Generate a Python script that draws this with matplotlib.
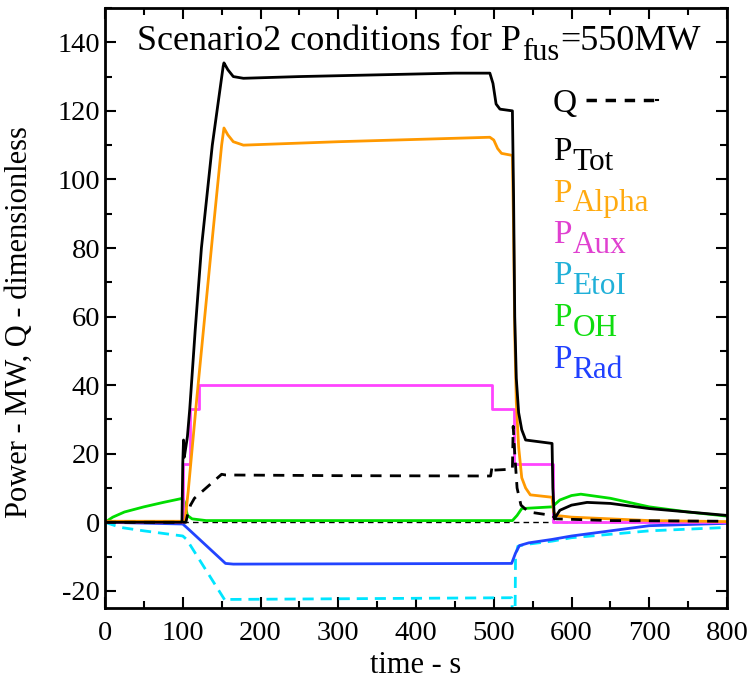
import matplotlib
matplotlib.use("Agg")
import matplotlib.pyplot as plt
from matplotlib.ticker import MultipleLocator

plt.rcParams['font.family'] = ['Liberation Serif', 'DejaVu Serif']
plt.rcParams['axes.unicode_minus'] = False

# P_Tot (black)
t_tot = [0, 99, 100, 101, 102, 104, 106, 109, 116, 124, 138, 152, 153, 158, 165, 178, 250, 350, 450,
         495, 499, 503, 508, 524, 525.5, 527, 529, 532, 536, 541, 575, 576, 578, 585, 600, 620, 650, 700, 750, 800]
p_tot = [0, 0, 17, 24, 19, 22, 25, 33, 56, 80, 110, 133, 134, 132, 130, 129.5, 130, 130.5, 131,
         131, 128, 122, 120.5, 120, 95, 60, 42, 32, 27, 24, 23, 10, 1, 3.5, 5, 5.8, 5.5, 4, 3, 2]

# P_Alpha (orange)
t_alpha = [0, 100, 103, 107, 118, 139, 150, 153, 158, 165, 178, 300, 495, 500, 505, 510, 524, 525.5, 527,
           529, 532, 536, 541, 547, 575, 577, 580, 600, 650, 700, 800]
p_alpha = [0.3, 0.3, 0.5, 9, 36, 85, 110, 115, 113, 111, 110, 111, 112.3, 111.5, 109, 107.6, 107, 85, 55,
           35, 22, 13, 10, 8, 7.3, 3, 2, 1.5, 1, 0.5, 0.2]

# P_Aux (magenta, step)
t_aux = [0, 100, 100, 109, 109, 121, 121, 498, 498, 526, 526, 576, 576, 800]
p_aux = [0, 0, 17, 17, 33, 33, 40, 40, 33, 33, 17, 17, 0, 0]

# P_EtoI (cyan dashed)
t_etoi = [0, 20, 50, 100, 105, 155, 160, 523, 525, 526, 527, 528, 531, 540, 575, 600, 650, 700, 750, 800]
p_etoi = [0, -1.5, -2.5, -4, -5, -23, -22.5, -22, -30, -40, -40, -10, -7, -6.5, -5.5, -4.5, -3.5, -2.5, -2, -1.5]

# P_OH (green)
t_oh = [0, 10, 25, 50, 75, 100, 102, 106, 112, 130, 524, 530, 536, 575, 585, 600, 612, 650, 700, 750, 800]
p_oh = [0, 1.5, 3, 4.5, 5.8, 7, 6, 2, 1, 0.5, 0.5, 2, 4, 4.5, 6.5, 7.8, 8.2, 7, 4.5, 3, 1.8]

# P_Rad (blue)
t_rad = [0, 100, 105, 155, 165, 523, 528, 533, 545, 575, 600, 650, 700, 800]
p_rad = [0, -0.5, -1.5, -12, -12.2, -12, -9, -6.8, -6, -5, -4, -2.5, -1, -0.3]

# Q (black dashed)
t_q = [0, 104, 106, 110, 115, 150, 155, 300, 496, 498, 500, 524, 525, 527, 530, 535, 545, 575, 580, 650, 800]
q = [0, 0, 2, 5, 7, 14, 13.8, 13.6, 13.5, 16.5, 15.2, 15.5, 28, 20, 10, 5, 3, 2, 1, 0.5, 0.3]

legend_subs = ["Tot", "Alpha", "Aux", "EtoI", "OH", "Rad"]
legend_colors = ["black", "#ffaa10", "#e040d0", "#20b0d8", "#10dd10", "#2040ff"]

W, H = 748, 690
fig = plt.figure(figsize=(W / 100, H / 100), dpi=100)
ax = fig.add_axes([105 / W, 1 - 608 / H, 622 / W, 600 / H])

lw = 2.0
ax.axhline(0, color="black", lw=1.0, ls=(0, (4, 3)), zorder=1)
ax.plot(t_etoi, p_etoi, color="#00e5ff", lw=lw, ls=(0, (4, 2.5)))
ax.plot(t_rad, p_rad, color="#2244ff", lw=lw)
ax.plot(t_oh, p_oh, color="#00dd00", lw=lw)
ax.plot(t_aux, p_aux, color="#ff44ff", lw=lw)
ax.plot(t_alpha, p_alpha, color="#ff9900", lw=lw)
ax.plot(t_tot, p_tot, color="black", lw=lw)
ax.plot(t_q, q, color="black", lw=lw, ls=(0, (4, 3)))

ax.set_xlim(0, 800)
ax.set_ylim(-25, 150)
ax.xaxis.set_major_locator(MultipleLocator(100))
ax.xaxis.set_minor_locator(MultipleLocator(50))
ax.yaxis.set_major_locator(MultipleLocator(20))
ax.yaxis.set_minor_locator(MultipleLocator(10))
ax.tick_params(which="both", direction="in", top=True, right=True, labelsize=20.5, width=1.5)
ax.tick_params(which="major", length=8)
ax.tick_params(which="minor", length=5)
ax.tick_params(axis="x", pad=9)
for s in ax.spines.values():
    s.set_linewidth(2)

ax.set_xlabel("time - s", fontsize=22)
ax.set_ylabel("Power - MW, Q - dimensionless", fontsize=22)
ax.xaxis.set_label_coords(0.5, -0.072)
ax.yaxis.set_label_coords(-0.137, 0.477)
ax.yaxis.label.set_va("center")


def pix_text(x, y, s, size, color="black"):
    # x, y in figure pixels from top-left, baseline aligned
    return fig.text(x / W, 1 - y / H, s, fontsize=size, color=color, ha="left", va="baseline")


def right_edge(t):
    fig.canvas.draw()
    return t.get_window_extent().x1


def sub_label(x, y, main, sub, size, sub_size, drop, color="black", rest=None):
    t = pix_text(x, y, main, size, color)
    x2 = right_edge(t) + 1
    t2 = pix_text(x2, y + drop, sub, sub_size, color)
    if rest:
        pix_text(right_edge(t2) + 1, y, rest, size, color)


# title
sub_label(137, 50, "Scenario2 conditions for P", "fus", 26, 22, 10, rest="=550MW")

# text legend
pix_text(553, 112, "Q", 24)
ax.plot([0.773, 0.885], [0.847, 0.847], transform=ax.transAxes, color="black", lw=2.5, ls=(0, (3, 2.5)))
ax.plot([0.886, 0.889], [0.847, 0.847], transform=ax.transAxes, color="black", lw=1.5)
y0 = 160
for sub, c in zip(legend_subs, legend_colors):
    sub_label(553, y0, "P", sub, 24, 22.5, 10, color=c)
    y0 += 41.5

fig.savefig("out.png", dpi=100)
